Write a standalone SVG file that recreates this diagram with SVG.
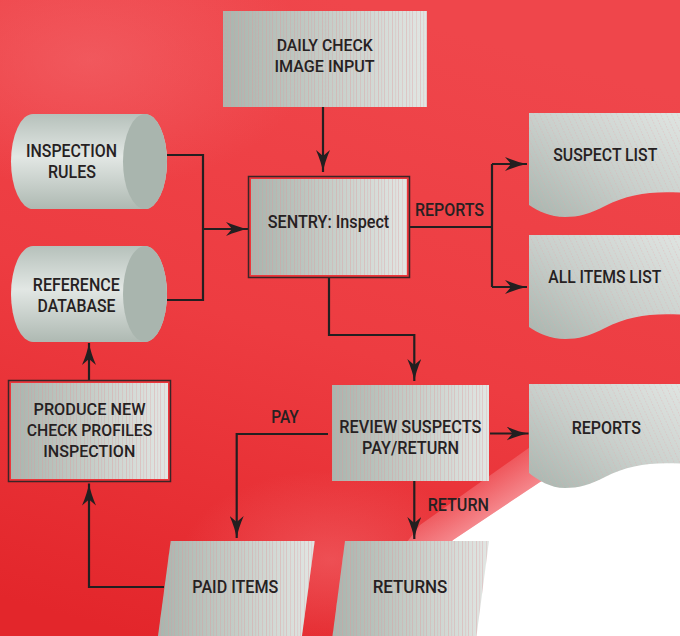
<svg xmlns="http://www.w3.org/2000/svg" width="680" height="636" viewBox="0 0 680 636">
<defs>
<linearGradient id="bg" x1="0.5" y1="0" x2="0.2" y2="1">
<stop offset="0" stop-color="#ef464b"/><stop offset="0.5" stop-color="#ed3c41"/><stop offset="1" stop-color="#e3262b"/>
</linearGradient>
<radialGradient id="glow1" cx="0.5" cy="0.5" r="0.5">
<stop offset="0" stop-color="#f36a6f" stop-opacity="0.55"/><stop offset="1" stop-color="#f36a6f" stop-opacity="0"/>
</radialGradient>
<linearGradient id="band" gradientUnits="userSpaceOnUse" x1="440" y1="480" x2="471" y2="527">
<stop offset="0" stop-color="#f5868b" stop-opacity="0"/><stop offset="1" stop-color="#f5868b"/>
</linearGradient>
<linearGradient id="node" x1="0" y1="0" x2="1" y2="0">
<stop offset="0" stop-color="#a9b5ae"/><stop offset="0.5" stop-color="#c4cdc7"/><stop offset="1" stop-color="#e1e6e3"/>
</linearGradient>
<pattern id="stripes" width="14" height="10" patternUnits="userSpaceOnUse">
<rect x="0" width="0.7" height="10" fill="#e0989b" opacity="0.55"/>
<rect x="3.5" width="0.6" height="10" fill="#e0989b" opacity="0.45"/>
<rect x="6" width="0.7" height="10" fill="#e0989b" opacity="0.5"/>
<rect x="10" width="0.6" height="10" fill="#e0989b" opacity="0.45"/>
</pattern>
<linearGradient id="doc" x1="0" y1="1" x2="1" y2="0">
<stop offset="0" stop-color="#a9b5ae"/><stop offset="0.5" stop-color="#c9d0cc"/><stop offset="1" stop-color="#dfe4e1"/>
</linearGradient>
<pattern id="dots" width="5" height="6" patternUnits="userSpaceOnUse" patternTransform="rotate(-25)">
<line x1="0.5" y1="0" x2="0.5" y2="6" stroke="#e6a3a6" stroke-width="0.6" stroke-dasharray="1.5 1.5" opacity="0.6"/>
</pattern>
<linearGradient id="cyl" x1="0" y1="0" x2="0" y2="1">
<stop offset="0" stop-color="#b6c1bb"/><stop offset="0.45" stop-color="#e2e7e4"/><stop offset="1" stop-color="#aeb9b2"/>
</linearGradient>
<marker id="ah" markerUnits="userSpaceOnUse" markerWidth="22" markerHeight="14" refX="22" refY="7" orient="auto">
<path d="M22,7 Q12,5.2 0,0 L6,7 L0,14 Q12,8.8 22,7 Z" fill="#231f20"/>
</marker>
<style>
text{font-family:Roboto,"Liberation Sans",Arial,sans-serif;font-weight:500;fill:#262122;text-anchor:middle}
.t{font-size:17.5px}
.s{font-size:16.5px}
.c{fill:none;stroke:#231f20;stroke-width:2.2}
.a{marker-end:url(#ah)}
.ring{fill:#ec363b;stroke:#3a2527;stroke-width:1.5}
.cap{fill:#a9b5ae}
</style>
</defs>

<g id="background">
<rect width="680" height="636" fill="url(#bg)"/>
<ellipse cx="90" cy="60" rx="220" ry="130" fill="url(#glow1)"/>
<ellipse cx="330" cy="560" rx="150" ry="90" fill="url(#glow1)"/>
<polygon points="680,395 540,440 420,525 335,636 360,636 453,540 540,482 680,415" fill="url(#band)"/>
<polygon points="680,415 540,482 453,540 360,636 680,636" fill="#ffffff"/>
</g>

<g id="connectors">
<path class="c a" d="M323,107 V172"/>
<path class="c" d="M167,155 H203 V300 H167"/>
<path class="c a" d="M203,229 H248"/>
<path class="c" d="M410,227 H492 M492,164 V287"/>
<path class="c a" d="M492,164 H527"/>
<path class="c a" d="M492,287 H527"/>
<path class="c a" d="M329,278 V335 H414.3 V381"/>
<path class="c a" d="M490,433.5 H528.5"/>
<path class="c a" d="M328,434 H236.7 V538"/>
<path class="c a" d="M414.3,481 V539"/>
<path class="c a" d="M164,587 H89 V483.5"/>
<path class="c a" d="M89,380 V343"/>
</g>

<g id="labels">
<text class="t" x="449.5" y="215.5" textLength="69" lengthAdjust="spacingAndGlyphs">REPORTS</text>
<text class="t" x="285" y="422.7" textLength="27.7" lengthAdjust="spacingAndGlyphs">PAY</text>
<text class="t" x="458.3" y="511" textLength="61.3" lengthAdjust="spacingAndGlyphs">RETURN</text>
</g>

<g id="daily-check">
<rect x="223" y="11" width="204" height="96" fill="url(#node)"/>
<rect x="223" y="11" width="204" height="96" fill="url(#stripes)"/>
<text class="s" x="324.7" y="51" textLength="96" lengthAdjust="spacingAndGlyphs">DAILY CHECK</text>
<text class="s" x="324.5" y="72" textLength="100" lengthAdjust="spacingAndGlyphs">IMAGE INPUT</text>
</g>

<g id="inspection-rules">
<path d="M33,114 H145 A22,47.5 0 0 1 145,209 H33 A22,47.5 0 0 1 33,114 Z" fill="url(#cyl)"/>
<ellipse class="cap" cx="145" cy="161.5" rx="22" ry="47.5"/>
<text class="t" x="71.5" y="157" textLength="91" lengthAdjust="spacingAndGlyphs">INSPECTION</text>
<text class="t" x="72" y="177.7" textLength="48" lengthAdjust="spacingAndGlyphs">RULES</text>
</g>

<g id="reference-database">
<path d="M33,246 H145 A22,48 0 0 1 145,342 H33 A22,48 0 0 1 33,246 Z" fill="url(#cyl)"/>
<ellipse class="cap" cx="145" cy="294" rx="22" ry="48"/>
<text class="t" x="76.3" y="290.7" textLength="87" lengthAdjust="spacingAndGlyphs">REFERENCE</text>
<text class="t" x="76.5" y="312" textLength="78" lengthAdjust="spacingAndGlyphs">DATABASE</text>
</g>

<g id="sentry">
<rect class="ring" x="248.5" y="176.5" width="161" height="101"/>
<rect x="251" y="179" width="156" height="96" fill="url(#node)"/>
<rect x="251" y="179" width="156" height="96" fill="url(#stripes)"/>
<text class="t" x="328.5" y="227.7" textLength="121.5" lengthAdjust="spacingAndGlyphs">SENTRY: Inspect</text>
</g>

<g id="suspect-list">
<path d="M529,113 H680 V192.5 C650,191 628,194 605,206 C590,214 578,217 565,217 C550,217 538,211 529,205 Z" fill="url(#doc)"/>
<path d="M529,113 H680 V192.5 C650,191 628,194 605,206 C590,214 578,217 565,217 C550,217 538,211 529,205 Z" fill="url(#dots)"/>
<text class="t" x="605.3" y="161" textLength="104" lengthAdjust="spacingAndGlyphs">SUSPECT LIST</text>
</g>

<g id="all-items-list">
<path d="M529,235 H680 V314.5 C650,313 628,316 605,328 C590,336 578,339 565,339 C550,339 538,333 529,327 Z" fill="url(#doc)"/>
<path d="M529,235 H680 V314.5 C650,313 628,316 605,328 C590,336 578,339 565,339 C550,339 538,333 529,327 Z" fill="url(#dots)"/>
<text class="t" x="604.8" y="283.3" textLength="113" lengthAdjust="spacingAndGlyphs">ALL ITEMS LIST</text>
</g>

<g id="produce-new">
<rect class="ring" x="8.5" y="380.5" width="162" height="101"/>
<rect x="11" y="383" width="157" height="96" fill="url(#node)"/>
<rect x="11" y="383" width="157" height="96" fill="url(#stripes)"/>
<text class="s" x="89.5" y="415" textLength="112" lengthAdjust="spacingAndGlyphs">PRODUCE NEW</text>
<text class="s" x="89.5" y="436.3" textLength="125.7" lengthAdjust="spacingAndGlyphs">CHECK PROFILES</text>
<text class="s" x="89.3" y="457.3" textLength="92" lengthAdjust="spacingAndGlyphs">INSPECTION</text>
</g>

<g id="review-suspects">
<rect x="332" y="385" width="157" height="96" fill="url(#node)"/>
<rect x="332" y="385" width="157" height="96" fill="url(#stripes)"/>
<text class="t" x="410.3" y="433.3" textLength="142" lengthAdjust="spacingAndGlyphs">REVIEW SUSPECTS</text>
<text class="t" x="410.5" y="453.5" textLength="97" lengthAdjust="spacingAndGlyphs">PAY/RETURN</text>
</g>

<g id="reports">
<path d="M529,384 H680 V463.5 C650,462 628,465 605,477 C590,485 578,488 565,488 C550,488 538,480 529,473 Z" fill="url(#doc)"/>
<path d="M529,384 H680 V463.5 C650,462 628,465 605,477 C590,485 578,488 565,488 C550,488 538,480 529,473 Z" fill="url(#dots)"/>
<text class="t" x="606.3" y="434.3" textLength="69.3" lengthAdjust="spacingAndGlyphs">REPORTS</text>
</g>

<g id="paid-items">
<path d="M170.7,541 H314.7 L302,636 H158 Z" fill="url(#node)"/>
<path d="M170.7,541 H314.7 L302,636 H158 Z" fill="url(#stripes)"/>
<text class="t" x="235.3" y="592.7" textLength="86" lengthAdjust="spacingAndGlyphs">PAID ITEMS</text>
</g>

<g id="returns">
<path d="M345,541 H489 L476.5,636 H332.5 Z" fill="url(#node)"/>
<path d="M345,541 H489 L476.5,636 H332.5 Z" fill="url(#stripes)"/>
<text class="t" x="410" y="592.7" textLength="74.7" lengthAdjust="spacingAndGlyphs">RETURNS</text>
</g>
</svg>
